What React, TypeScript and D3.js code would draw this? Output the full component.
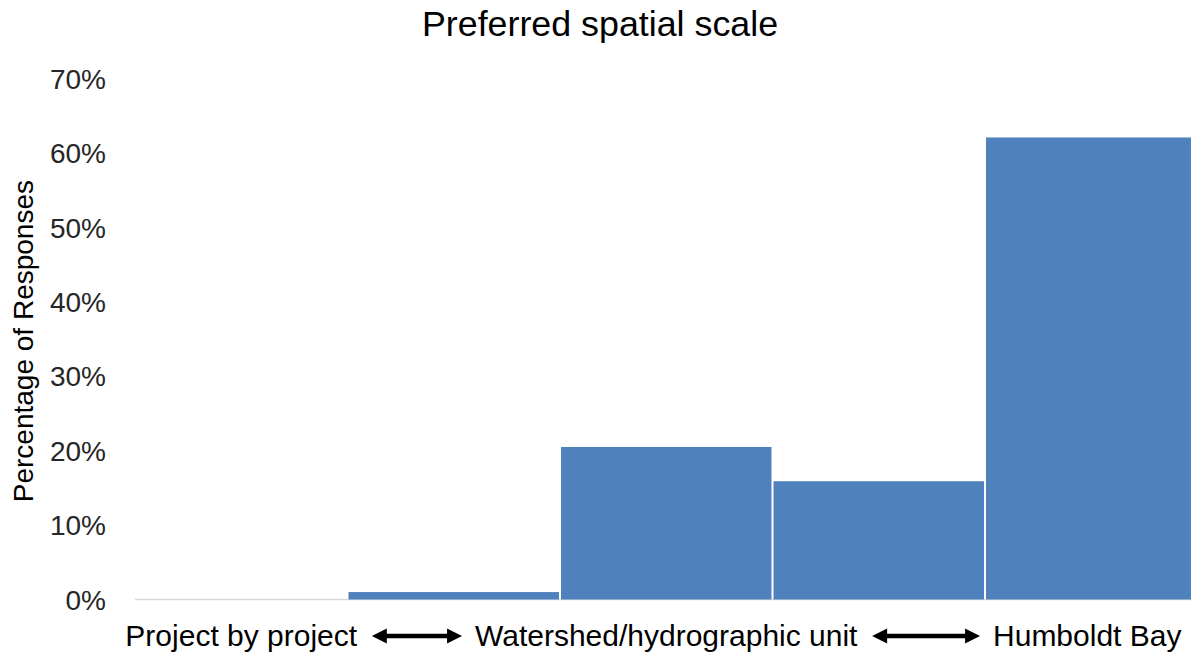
import React, { useEffect, useRef } from "react";
import * as d3 from "d3";

const title = "Preferred spatial scale";
const yAxisTitle = "Percentage of Responses";
const categories = ["c1", "c2", "c3", "c4", "c5"];
const values = [0, 1.0, 20.5, 15.9, 62.1];
const yTicks = [0, 10, 20, 30, 40, 50, 60, 70];
// scale-end labels, anchored on bands 1, 3 and 5
const scaleLabels = ["Project by project", "Watershed/hydrographic unit", "Humboldt Bay"];
const scaleLabelBands = ["c1", "c3", "c5"];

const W = 1191;
const H = 653;
const FONT = "'Liberation Sans', Arial, sans-serif";

export default function App() {
  const ref = useRef<SVGSVGElement>(null);

  useEffect(() => {
    const svg = d3.select(ref.current);
    svg.selectAll("*").remove();

    const margin = { left: 135, top: 78.7, bottom: 53.5 };
    // the last band runs slightly past the right edge of the picture
    const x = d3.scaleBand().domain(categories).range([margin.left, 1197.5]).padding(0);
    const y = d3.scaleLinear().domain([0, 70]).range([H - margin.bottom, margin.top]);

    // title
    svg.append("text")
      .attr("x", 600).attr("y", 36)
      .attr("text-anchor", "middle")
      .attr("font-family", FONT).attr("font-size", 35.8)
      .attr("fill", "#000")
      .text(title);

    // y tick labels
    svg.append("g").selectAll("text").data(yTicks).join("text")
      .attr("x", 106).attr("y", (d) => y(d) + 10)
      .attr("text-anchor", "end")
      .attr("font-family", FONT).attr("font-size", 28)
      .attr("fill", "#262626")
      .text((d) => `${d}%`);

    // y axis title
    svg.append("text")
      .attr("transform", `translate(33, ${(y(0) + y(70)) / 2 + 2}) rotate(-90)`)
      .attr("text-anchor", "middle")
      .attr("font-family", FONT).attr("font-size", 28)
      .attr("fill", "#000")
      .text(yAxisTitle);

    // baseline
    svg.append("line")
      .attr("x1", margin.left).attr("x2", W)
      .attr("y1", y(0)).attr("y2", y(0))
      .attr("stroke", "#d9d9d9").attr("stroke-width", 1.5);

    // bars
    svg.append("g").selectAll("rect").data(values).join("rect")
      .attr("x", (_, i) => (x(categories[i]) as number) + 1)
      .attr("width", x.bandwidth() - 2)
      .attr("y", (d) => y(d))
      .attr("height", (d) => y(0) - y(d))
      .attr("fill", "#4F81BD");

    // x labels
    const labelY = 646;
    const labels = svg.append("g").selectAll("text").data(scaleLabels).join("text")
      .attr("x", (_, i) => (x(scaleLabelBands[i]) as number) + x.bandwidth() / 2 - (i === 2 ? 4 : 0))
      .attr("y", labelY)
      .attr("text-anchor", "middle")
      .attr("font-family", FONT).attr("font-size", 30)
      .attr("fill", "#000")
      .text((d) => d);

    const boxes: { x: number; w: number }[] = [];
    labels.each(function () {
      const b = (this as SVGTextElement).getBBox();
      boxes.push({ x: b.x, w: b.width });
    });

    // double-headed arrows between the labels
    const arrowY = 636;
    const head = 15;
    const arrowG = svg.append("g");
    for (let i = 0; i < boxes.length - 1; i++) {
      const gapStart = boxes[i].x + boxes[i].w;
      const gapEnd = boxes[i + 1].x;
      const x1 = gapStart + 14;
      const x2 = gapEnd - 13;
      arrowG.append("line")
        .attr("x1", x1 + head - 2).attr("x2", x2 - head + 2)
        .attr("y1", arrowY).attr("y2", arrowY)
        .attr("stroke", "#000").attr("stroke-width", 4.5);
      arrowG.append("path")
        .attr("d", `M${x1},${arrowY} L${x1 + head},${arrowY - 7.5} L${x1 + head},${arrowY + 7.5} Z`)
        .attr("fill", "#000");
      arrowG.append("path")
        .attr("d", `M${x2},${arrowY} L${x2 - head},${arrowY - 7.5} L${x2 - head},${arrowY + 7.5} Z`)
        .attr("fill", "#000");
    }
  }, []);

  return (
    <svg
      ref={ref}
      width={W}
      height={H}
      style={{ position: "absolute", left: 0, top: 0, background: "#fff" }}
    />
  );
}
